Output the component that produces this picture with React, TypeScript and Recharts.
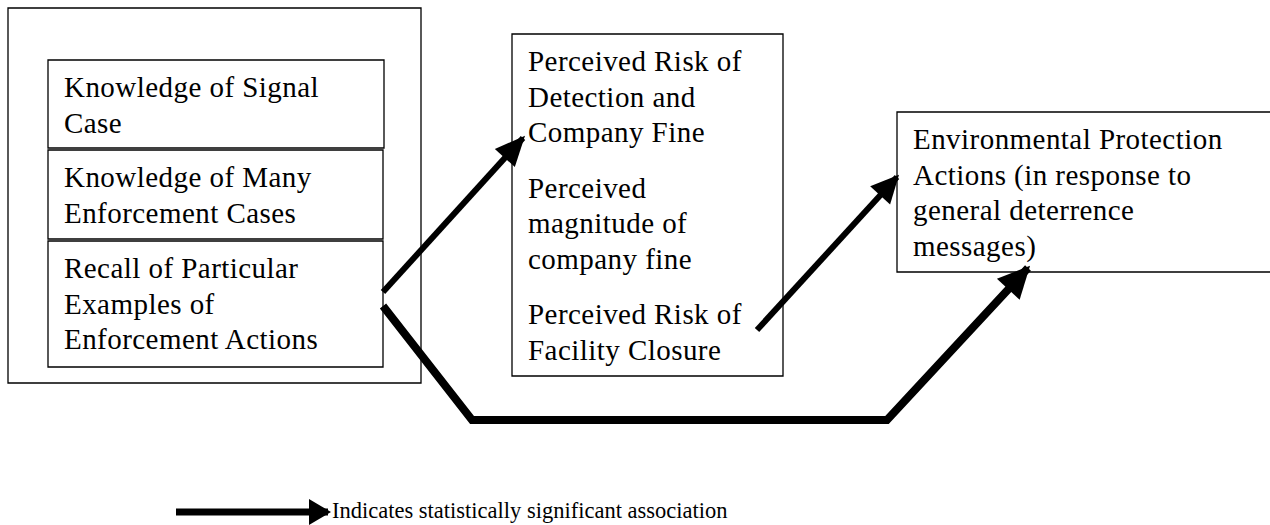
import React from "react";
import {
  ComposedChart,
  XAxis,
  YAxis,
  Line,
  ReferenceArea,
  ReferenceDot,
} from "recharts";

// diagram units = pixels of the 1270x525 canvas (y grows downward)
const outerFrame = [{ x1: 8, y1: 8, x2: 421, y2: 383 }];

const knowledgeBoxes = [
  { x1: 48, y1: 60, x2: 384, y2: 148 },
  { x1: 48, y1: 150, x2: 383, y2: 239 },
  { x1: 48, y1: 241, x2: 383, y2: 367 },
];
const knowledgeLabels = [
  [["Knowledge of Signal", "Case"]],
  [["Knowledge of Many", "Enforcement Cases"]],
  [["Recall of Particular", "Examples of", "Enforcement Actions"]],
];

const perceptionBox = { x1: 512, y1: 34, x2: 783, y2: 376 };
const perceptionLabels = [
  ["Perceived Risk of", "Detection and", "Company Fine"],
  ["Perceived", "magnitude of", "company fine"],
  ["Perceived Risk of", "Facility Closure"],
];

const outcomeBox = { x1: 897, y1: 112, x2: 1276, y2: 272 };
const outcomeLabels = [
  ["Environmental Protection", "Actions (in response to", "general deterrence", "messages)"],
];

// significant associations
const recallToRisk = [
  { x: 383, y: 292 },
  { x: 523, y: 138 },
];
const closureToActions = [
  { x: 757, y: 330 },
  { x: 897, y: 177 },
];
const recallToActions = [
  { x: 383, y: 306 },
  { x: 472, y: 420 },
  { x: 887, y: 420 },
  { x: 1028, y: 268 },
];
const legendArrow = [
  { x: 176, y: 512 },
  { x: 328, y: 512 },
];
const legendText = "Indicates statistically significant association";

const FONT = '"Liberation Serif", "Times New Roman", serif';

function BoxText({ viewBox, paragraphs }: any) {
  if (!viewBox) return null;
  const { x, y } = viewBox;
  const lineH = 35.7;
  const gap = 19.5;
  let base = y + 37;
  const out: React.ReactNode[] = [];
  paragraphs.forEach((lines: string[], pi: number) => {
    if (pi > 0) base += gap;
    lines.forEach((t, li) => {
      out.push(
        <text
          key={`${pi}-${li}`}
          x={x + 16}
          y={base}
          fontFamily={FONT}
          fontSize={29}
          letterSpacing={0.45}
          fill="#000"
        >
          {t}
        </text>
      );
      base += lineH;
    });
  });
  return <g>{out}</g>;
}

function LegendLabel({ viewBox }: any) {
  if (!viewBox) return null;
  return (
    <text
      x={viewBox.x + 4}
      y={viewBox.y + 6}
      fontFamily={FONT}
      fontSize={22.5}
      fill="#000"
    >
      {legendText}
    </text>
  );
}

function headDot(points: { x: number; y: number }[], len: number, wid: number) {
  const last = points.length - 1;
  const a = points[last - 1];
  const b = points[last];
  const d = Math.hypot(b.x - a.x, b.y - a.y);
  const ux = (b.x - a.x) / d;
  const uy = (b.y - a.y) / d;
  return (props: any) => {
    const { cx, cy, index } = props;
    if (index !== last) return <g key={`d${index}`} />;
    const tx = cx + ux * 3;
    const ty = cy + uy * 3;
    const bx = tx - ux * len;
    const by = ty - uy * len;
    const px = -uy * (wid / 2);
    const py = ux * (wid / 2);
    return (
      <polygon
        key={`d${index}`}
        points={`${tx},${ty} ${bx + px},${by + py} ${bx - px},${by - py}`}
        fill="#000"
      />
    );
  };
}

function arrowLine(id: string, pts: { x: number; y: number }[], w: number, len: number, wid: number) {
  return (
    <Line
      key={id}
      data={pts}
      dataKey="y"
      type="linear"
      stroke="#000"
      strokeWidth={w}
      strokeLinejoin="miter"
      dot={headDot(pts, len, wid)}
      activeDot={false}
      isAnimationActive={false}
    />
  );
}

export default function App() {
  return (
    <div style={{ position: "absolute", left: 0, top: 0, background: "#fff" }}>
      <ComposedChart width={1270} height={525} margin={{ top: 0, right: 0, bottom: 0, left: 0 }}>
        <XAxis type="number" dataKey="x" domain={[0, 1270]} hide allowDataOverflow />
        <YAxis type="number" domain={[0, 525]} reversed hide allowDataOverflow />

        {outerFrame.map((b, i) => (
          <ReferenceArea
            key={`o${i}`}
            {...b}
            fill="#fff"
            fillOpacity={1}
            stroke="#000"
            strokeWidth={1.3}
            ifOverflow="visible"
          />
        ))}
        {knowledgeBoxes.map((b, i) => (
          <ReferenceArea
            key={`k${i}`}
            {...b}
            fill="#fff"
            fillOpacity={1}
            stroke="#000"
            strokeWidth={1.3}
            ifOverflow="visible"
            label={<BoxText paragraphs={knowledgeLabels[i]} />}
          />
        ))}
        <ReferenceArea
          {...perceptionBox}
          fill="#fff"
          fillOpacity={1}
          stroke="#000"
          strokeWidth={1.3}
          ifOverflow="visible"
          label={<BoxText paragraphs={perceptionLabels} />}
        />
        <ReferenceArea
          {...outcomeBox}
          fill="#fff"
          fillOpacity={1}
          stroke="#000"
          strokeWidth={1.3}
          ifOverflow="visible"
          label={<BoxText paragraphs={outcomeLabels} />}
        />

        {arrowLine("a1", recallToRisk, 6, 30, 27)}
        {arrowLine("a2", closureToActions, 6, 28, 27)}
        {arrowLine("a3", recallToActions, 8, 32, 31)}
        {arrowLine("lg", legendArrow, 7, 22, 26)}

        <ReferenceDot
          x={legendArrow[1].x}
          y={legendArrow[1].y}
          r={0}
          fill="none"
          stroke="none"
          ifOverflow="visible"
          label={<LegendLabel />}
        />
      </ComposedChart>
    </div>
  );
}
